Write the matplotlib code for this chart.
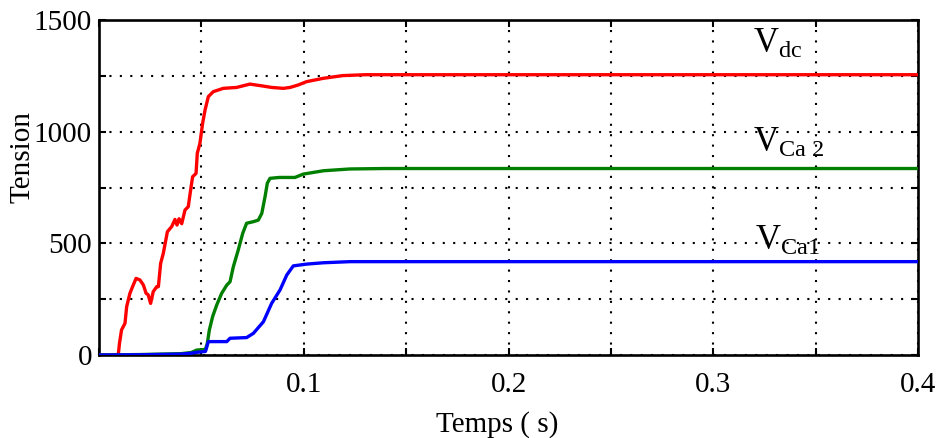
import matplotlib
matplotlib.use("Agg")
import matplotlib.pyplot as plt
from matplotlib.ticker import FixedLocator, FixedFormatter

plt.rcParams['font.family'] = ['Liberation Serif', 'DejaVu Serif']
plt.rcParams['mathtext.fontset'] = 'custom'
plt.rcParams['mathtext.rm'] = 'Liberation Serif'
plt.rcParams['mathtext.it'] = 'Liberation Serif:italic'

# DC bus voltage
t_dc = [0.0, 0.0094, 0.0100, 0.0110, 0.0127, 0.0135, 0.0151, 0.0164, 0.0181, 0.0200,
        0.0217, 0.0230, 0.0240, 0.0252, 0.0265, 0.0282, 0.0290, 0.0301, 0.0314, 0.0334,
        0.0355, 0.0371, 0.0381, 0.0391, 0.0404, 0.0420, 0.0436, 0.0444, 0.0457, 0.0474,
        0.0480, 0.0493, 0.0506, 0.0518, 0.0534, 0.0558, 0.0607, 0.0672, 0.0737, 0.0803,
        0.0843, 0.0900, 0.0933, 0.0973, 0.1014, 0.1096, 0.1190, 0.1300, 0.2000, 0.3000, 0.4000]
v_dc = [0, 0, 52, 112, 142, 216, 276, 306, 343, 336,
        313, 276, 270, 231, 284, 306, 306, 410, 455, 552,
        575, 607, 582, 610, 588, 649, 664, 716, 798, 813,
        903, 948, 1037, 1097, 1157, 1179, 1194, 1198, 1213, 1204,
        1198, 1194, 1198, 1209, 1224, 1239, 1251, 1255, 1255, 1255, 1255]

# Capacitor Ca2 voltage
t_ca2 = [0.0, 0.0200, 0.0400, 0.0450, 0.0477, 0.0520, 0.0529, 0.0539, 0.0555, 0.0575,
         0.0599, 0.0624, 0.0640, 0.0656, 0.0680, 0.0702, 0.0721, 0.0754, 0.0778, 0.0795,
         0.0811, 0.0822, 0.0835, 0.0880, 0.0957, 0.0998, 0.1096, 0.1226, 0.1400, 0.2000,
         0.3000, 0.4000]
v_ca2 = [0, 2, 6, 11, 22, 25, 52, 112, 172, 224,
         276, 313, 328, 395, 470, 545, 590, 597, 604, 634,
         709, 769, 791, 795, 795, 810, 825, 833, 835, 835,
         835, 835]

# Capacitor Ca1 voltage
t_ca1 = [0.0, 0.0200, 0.0400, 0.0450, 0.0477, 0.0520, 0.0534, 0.0624, 0.0640, 0.0721,
         0.0754, 0.0803, 0.0843, 0.0884, 0.0917, 0.0949, 0.1014, 0.1096, 0.1226, 0.1400,
         0.2000, 0.3000, 0.4000]
v_ca1 = [0, 1, 4, 8, 12, 16, 60, 60, 75, 78,
         97, 149, 231, 291, 358, 399, 407, 413, 418, 418,
         418, 418, 418]

x_ticks = [0.0, 0.05, 0.1, 0.15, 0.2, 0.25, 0.3, 0.35, 0.4]
x_tick_labels = ['', '', '0.1', '', '0.2', '', '0.3', '', '0.4']
y_ticks = [0, 250, 500, 750, 1000, 1250, 1500]
y_tick_labels = ['0', '', '500', '', '1000', '', '1500']

W, H = 952, 438
fig = plt.figure(figsize=(W / 100, H / 100), dpi=100)
ax = fig.add_axes([99 / W, 1 - 355 / H, 819 / W, 335 / H])

lw = 2.4
ax.plot(t_dc, v_dc, color='#ff0000', lw=lw, zorder=3)
ax.plot(t_ca2, v_ca2, color='#007f00', lw=lw, zorder=3)
ax.plot(t_ca1, v_ca1, color='#0000ff', lw=lw, zorder=3)

ax.set_xlim(0, 0.4)
ax.set_ylim(0, 1500)
ax.xaxis.set_major_locator(FixedLocator(x_ticks))
ax.xaxis.set_major_formatter(FixedFormatter(x_tick_labels))
ax.yaxis.set_major_locator(FixedLocator(y_ticks))
ax.yaxis.set_major_formatter(FixedFormatter(y_tick_labels))

ax.grid(True, color='black', linestyle=(0, (1, 4)), linewidth=1.5)
ax.tick_params(direction='in', length=5, width=1.5, top=True, right=True,
               labelsize=21, colors='black')
ax.tick_params(axis='x', pad=12)
ax.tick_params(axis='y', pad=5)
for s in ax.spines.values():
    s.set_linewidth(1.9)

fig.text(497 / W, 1 - 432 / H, 'Temps ( s)', fontsize=21, ha='center', va='baseline')
fig.text(23 / W, 1 - 157 / H, 'Tension', fontsize=21, rotation=90,
         ha='center', va='center')

ax.text(0.3193, 1352, r'$\mathrm{V}_{\mathrm{dc}}$', fontsize=25, ha='left', va='baseline')
ax.text(0.3193, 909, r'$\mathrm{V}_{\mathrm{Ca\ 2}}$', fontsize=25, ha='left', va='baseline')
ax.text(0.3205, 470, r'$\mathrm{V}_{\mathrm{Ca1}}$', fontsize=25, ha='left', va='baseline')

fig.savefig('out.png', dpi=100)
